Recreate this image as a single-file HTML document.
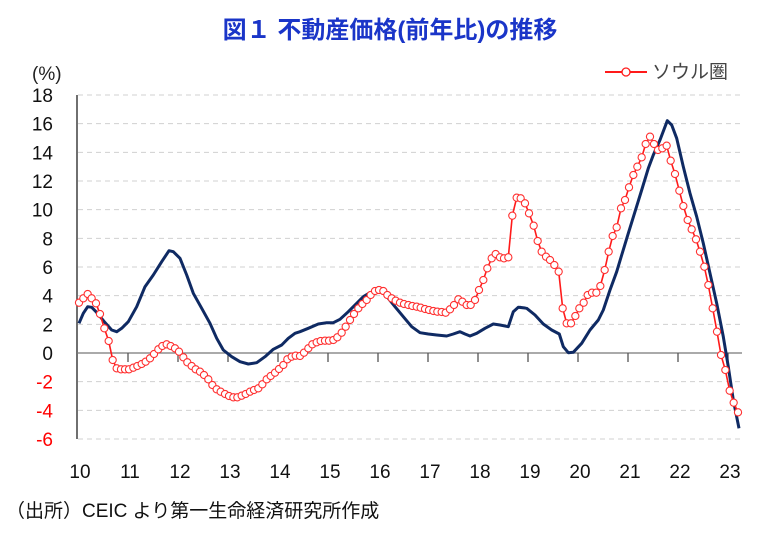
<!DOCTYPE html>
<html><head><meta charset="utf-8"><style>
body{margin:0;background:#fff;width:780px;height:534px;overflow:hidden;font-family:"Liberation Sans","Noto Sans CJK JP",sans-serif}
</style></head><body>
<svg id="s" width="780" height="534" xmlns="http://www.w3.org/2000/svg" style="position:absolute;left:0;top:0">
<text x="390" y="38" text-anchor="middle" font-size="24" font-weight="bold" fill="#1a35c8" font-family="Liberation Sans, Noto Sans CJK JP, sans-serif">図１ 不動産価格(前年比)の推移</text>
<text x="32" y="80" font-size="19" fill="#222">(%)</text>
<g id="grid"></g>
<line x1="77" y1="95" x2="77" y2="439" stroke="#222" stroke-width="1.3"/>
<line x1="77" y1="353" x2="742" y2="353" stroke="#777" stroke-width="1.3"/>
<g id="ticks"></g>
<polyline id="navy" fill="none" stroke="#0f2a63" stroke-width="3" stroke-linejoin="round"/>
<polyline id="red" fill="none" stroke="#ff1a1a" stroke-width="1.6"/>
<g id="mk"></g>
<line x1="605" y1="72" x2="647" y2="72" stroke="#ff1a1a" stroke-width="2"/>
<circle cx="626" cy="72" r="4" fill="#fff" stroke="#ff1a1a" stroke-width="1.3"/>
<text x="652" y="78" font-size="19" fill="#444" font-family="Liberation Sans, Noto Sans CJK JP, sans-serif">ソウル圏</text>
<text x="6" y="517" font-size="19" fill="#111" font-family="Liberation Sans, Noto Sans CJK JP, sans-serif">（出所）CEIC より第一生命経済研究所作成</text>
</svg>
<script>
var NS="http://www.w3.org/2000/svg",s=document.getElementById('s');
function el(t,a,p){var e=document.createElementNS(NS,t);for(var k in a)e.setAttribute(k,a[k]);(p||s).appendChild(e);return e;}
var g=document.getElementById('grid');
for(var v=18;v>=-6;v-=2){var y=95+(18-v)*14.333;
 if(v!==0)el('line',{x1:78,y1:y,x2:742,y2:y,stroke:'#d0d0d0','stroke-width':1,'stroke-dasharray':'5,4'},g);
 var t=el('text',{x:53,y:y+7,'text-anchor':'end','font-size':19,fill:v<0?'#ff0000':'#111'});t.textContent=v;}
var tk=document.getElementById('ticks');
for(var i=0;i<14;i++){var x=78+50*i;if(i>0)el('line',{x1:x,y1:353,x2:x,y2:362,stroke:'#555','stroke-width':1.3},tk);
 var t=el('text',{x:x+2,y:478,'text-anchor':'middle','font-size':19,fill:'#111'});t.textContent=10+i;}
function cv(o,a){return a.map(function(p){return [o[0]+p[0]/3,o[1]+p[1]/3];});}
var r4=[[12,458],[25,445],[38,432],[50,445],[63,460],[75,492],[88,535],[101,573],[113,630],[125,655],[138,658],[150,658],[162,658],[175,653],[187,648],[200,642],[212,635],[225,625],[237,612],[250,598],[262,588],[275,583],[287,588],[300,595],[312,605],[325,622],[337,637],[350,648],[362,658],[375,665],[387,675],[400,688],[412,705],[425,718],[437,725],[450,732],[462,738],[475,742],[487,742],[500,737],[512,732],[525,725],[537,720],[550,715],[562,703],[575,688],[587,678],[600,668],[612,657],[625,645],[637,628],[650,620],[662,617]];
var r5=[[0,528],[12,518],[25,505],[37,493],[50,487],[62,483],[75,482],[87,482],[100,480],[112,472],[125,458],[137,440],[150,420],[162,402],[175,385],[187,372],[200,360],[212,345],[225,333],[237,330],[250,333],[262,345],[275,355],[287,362],[300,368],[312,372],[325,375],[337,378],[350,380],[362,383],[375,387],[387,390],[400,393],[412,395],[425,396],[437,398],[450,388],[462,375],[475,358],[487,365],[500,375],[512,375],[525,360],[537,330],[550,300],[562,265],[575,235],[587,222],[600,232],[612,235],[625,232],[637,107],[650,53],[662,55],[675,70],[687,100]];
var r6=[[41,377],[53,423],[65,455],[78,470],[90,480],[103,495],[116,515],[128,625],[140,670],[153,670],[166,648],[178,625],[191,608],[203,585],[216,578],[229,578],[241,558],[254,510],[266,455],[278,408],[290,382],[303,325],[315,300],[327,262],[340,225],[352,200],[365,172],[377,132],[390,110],[402,132],[414,150],[427,145],[440,137],[452,182],[465,222],[478,272],[490,318],[503,360],[515,388],[528,418],[540,455],[553,500],[565,555],[578,625],[591,695],[603,765],[616,810],[629,872],[641,908],[654,937]];
var red=cv([75,150],r4).concat(cv([300,180],r5),cv([520,100],r6));
var n4=[[12,520],[25,490],[38,470],[50,472],[63,485],[88,515],[110,540],[125,545],[140,535],[160,515],[185,470],[210,410],[235,375],[260,335],[282,302],[295,305],[315,325],[335,375],[355,430],[380,475],[405,520],[425,565],[445,600],[470,620],[495,635],[520,642],[545,638],[570,620],[595,598],[620,585],[640,565],[660,550]];
var n5=[[0,455],[25,445],[55,432],[80,428],[100,428],[120,418],[145,395],[170,370],[190,350],[210,338],[230,333],[250,338],[265,355],[285,380],[310,410],[335,440],[360,458],[385,462],[410,465],[440,468],[460,462],[480,455],[495,462],[510,468],[530,460],[555,445],[580,432],[600,435],[625,440],[640,395],[655,382],[675,384]];
var n6=[[0,622],[20,625],[45,645],[70,672],[95,690],[118,702],[130,740],[145,758],[160,757],[185,730],[210,690],[235,660],[250,630],[270,570],[290,515],[305,465],[325,400],[345,335],[365,270],[385,205],[400,165],[420,120],[442,62],[455,75],[470,115],[490,200],[510,280],[530,350],[550,430],[570,520],[590,610],[610,710],[625,800],[640,900],[657,985]];
var navy=cv([75,150],n4).concat(cv([300,180],n5),cv([520,100],n6));
function pts(a){return a.map(function(p){return p[0].toFixed(1)+','+p[1].toFixed(1)}).join(' ');}
document.getElementById('navy').setAttribute('points',pts(navy));
document.getElementById('red').setAttribute('points',pts(red));
var mk=document.getElementById('mk');
red.forEach(function(p){el('circle',{cx:p[0],cy:p[1],r:3.6,fill:'#fff',stroke:'#ff3030','stroke-width':1.1},mk);});
</script>
</body></html>
